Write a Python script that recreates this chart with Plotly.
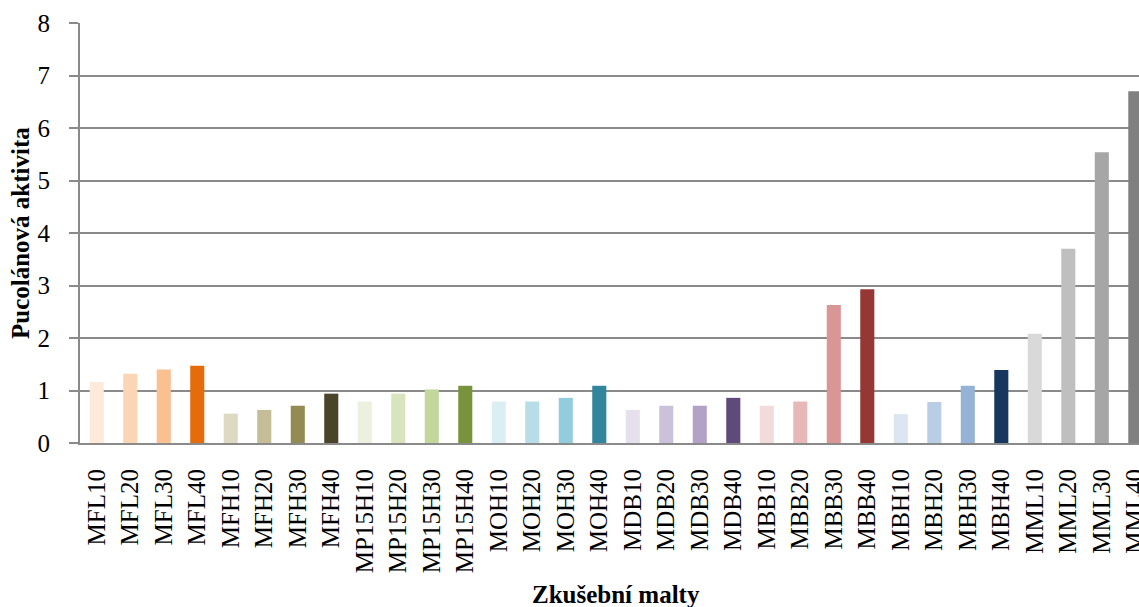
import plotly.graph_objects as go

categories = ["MFL10", "MFL20", "MFL30", "MFL40",
              "MFH10", "MFH20", "MFH30", "MFH40",
              "MP15H10", "MP15H20", "MP15H30", "MP15H40",
              "MOH10", "MOH20", "MOH30", "MOH40",
              "MDB10", "MDB20", "MDB30", "MDB40",
              "MBB10", "MBB20", "MBB30", "MBB40",
              "MBH10", "MBH20", "MBH30", "MBH40",
              "MML10", "MML20", "MML30", "MML40"]

values = [1.16, 1.32, 1.40, 1.47,
          0.56, 0.63, 0.71, 0.94,
          0.79, 0.94, 1.02, 1.09,
          0.79, 0.79, 0.86, 1.09,
          0.63, 0.71, 0.71, 0.86,
          0.71, 0.79, 2.63, 2.93,
          0.55, 0.78, 1.09, 1.39,
          2.08, 3.70, 5.54, 6.70]

colors = ["#FDEADA", "#FCD5B5", "#FAC090", "#E46C0A",
          "#DDD9C3", "#C4BD97", "#948A54", "#4A452A",
          "#EBF1DE", "#D7E4BD", "#C3D69B", "#77933C",
          "#DBEEF4", "#B7DEE8", "#93CDDD", "#31859C",
          "#E6E0EC", "#CCC1DA", "#B3A2C7", "#604A7B",
          "#F2DCDB", "#E6B9B8", "#D99694", "#953735",
          "#DCE6F2", "#B9CDE5", "#95B3D7", "#17375E",
          "#D9D9D9", "#BFBFBF", "#A6A6A6", "#808080"]

y_ticks = [0, 1, 2, 3, 4, 5, 6, 7, 8]

x_title = "Zkušební malty"
y_title = "Pucolánová aktivita"

FONT = "Liberation Serif, Times New Roman, serif"
GRID = "#8a8a8a"
FS = 25

fig = go.Figure(go.Bar(x=categories, y=values, marker=dict(color=colors, line=dict(width=0)),
                       width=0.42))

fig.update_layout(
    width=1139, height=607,
    margin=dict(l=80, r=0, t=23, b=164),
    paper_bgcolor="white", plot_bgcolor="white",
    font=dict(family=FONT, size=FS, color="black"),
    showlegend=False,
    xaxis=dict(
        type="category",
        range=[-0.5, 31.11],
        tickangle=-90,
        tickfont=dict(family=FONT, size=FS),
        showline=True, linecolor=GRID, linewidth=2,
        ticks="", showgrid=False,
        ticklabelstandoff=14,
        automargin=False,
    ),
    yaxis=dict(
        range=[0, 8],
        tickvals=y_ticks,
        tickfont=dict(family=FONT, size=FS),
        showline=True, linecolor=GRID, linewidth=2,
        ticks="outside", ticklen=9, tickcolor=GRID, tickwidth=1.5,
        showgrid=True, gridcolor=GRID, gridwidth=1.5,
        zeroline=False,
        ticklabelstandoff=14,
        automargin=False,
    ),
    annotations=[
        dict(text="<b>" + x_title + "</b>", xref="x", yref="paper",
             x=15.5, y=-(594 - 443) / 420, xanchor="center", yanchor="middle",
             showarrow=False, font=dict(family=FONT, size=FS)),
        dict(text="<b>" + y_title + "</b>", xref="paper", yref="paper",
             x=(20 - 80) / 1059, y=0.5, xanchor="center", yanchor="middle",
             textangle=-90, showarrow=False, font=dict(family=FONT, size=FS)),
    ],
)

fig.write_html("out.html",
               config={"displayModeBar": False},
               post_script="document.body.style.margin='0';document.body.style.overflow='hidden';")
